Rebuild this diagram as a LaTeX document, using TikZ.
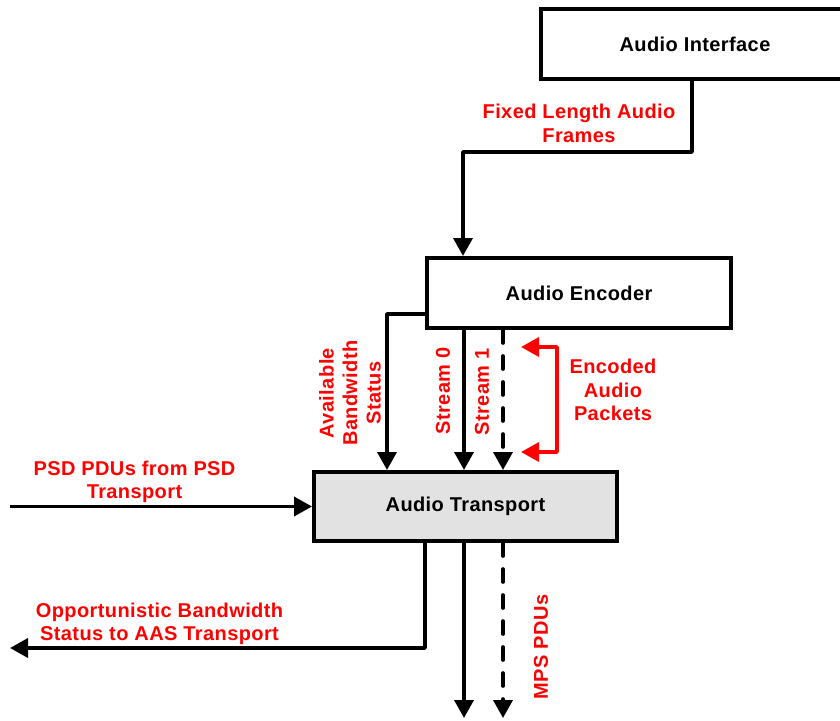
\documentclass[tikz,border=0pt]{standalone}
\usepackage{fontspec}
\setmainfont{Liberation Sans}[LetterSpace=2.0]
\usetikzlibrary{arrows.meta}

\definecolor{boxgray}{RGB}{226,226,226}

\tikzset{
  blockbox/.style={draw=black, line width=4pt, fill=white, inner sep=0pt,
    font=\bfseries\fontsize{20}{23.5}\selectfont},
  conn/.style={draw=black, line width=3.6pt, line join=round,
    -{Triangle[length=18pt,width=19pt]}},
  dashconn/.style={conn, line cap=round, dash pattern=on 13pt off 13pt},
  redconn/.style={draw=red, line width=3.6pt, line join=round,
    {Triangle[length=18pt,width=19pt]}-{Triangle[length=18pt,width=19pt]}},
  lbl/.style={text=red, align=center, inner sep=0pt,
    font=\bfseries\fontsize{20}{23.5}\selectfont},
}

\begin{document}
\begin{tikzpicture}[x=1pt, y=-1pt]
  \clip (0,0) rectangle (840,720);

  % blocks
  \node[blockbox, minimum width=308pt, minimum height=70pt] (ai) at (695,44) {Audio Interface};
  \node[blockbox, minimum width=304pt, minimum height=70pt] (ae) at (579,293) {Audio Encoder};
  \node[blockbox, fill=boxgray, minimum width=303pt, minimum height=69pt] (at) at (465.5,506.5) {Audio Transport};

  % interface -> encoder
  \draw[conn] (ai.south -| 692,0) -- (692,152) -- (463,152) -- (ae.north -| 463,0);

  % encoder -> transport
  \draw[conn] (ae.west |- 0,314) -| (at.north -| 387,0);
  \draw[conn] (ae.south -| 464,0) -- (at.north -| 464,0);
  \draw[dashconn] (ae.south -| 503,0) -- (at.north -| 503,0);

  % bracket marking the encoded audio packets
  \coordinate (bt) at (521,347);
  \coordinate (bb) at (521,452);
  \draw[redconn] (bt) -- (557,347) -- (557,452) -- (bb);

  % PSD input
  \coordinate (psdin) at (10,506.5);
  \draw[conn] (psdin) -- (at.west);

  % outputs
  \coordinate (oppout) at (10,648);
  \coordinate (mps0) at (464,718);
  \coordinate (mps1) at (503,718);
  \draw[conn] (at.south -| 425,0) |- (oppout);
  \draw[conn] (at.south -| 464,0) -- (mps0);
  \draw[dashconn] (at.south -| 503,0) -- (mps1);

  % labels
  \node[lbl] (lfix) at (579,123.5) {Fixed Length Audio\\Frames};
  \node[lbl] (lenc) at (613,390) {Encoded\\Audio\\Packets};
  \node[lbl, rotate=90] (lbw) at (350,393) {Available\\Bandwidth\\Status};
  \node[lbl, rotate=90] (ls0) at (443,391) {Stream 0};
  \node[lbl, rotate=90] (ls1) at (482,392) {Stream 1};
  \node[lbl] (lpsd) at (134.5,482) {PSD PDUs from PSD\\Transport};
  \node[lbl] (lopp) at (159.5,624) {Opportunistic Bandwidth\\Status to AAS Transport};
  \node[lbl, rotate=90] (lmps) at (541,647) {MPS PDUs};
\end{tikzpicture}
\end{document}
